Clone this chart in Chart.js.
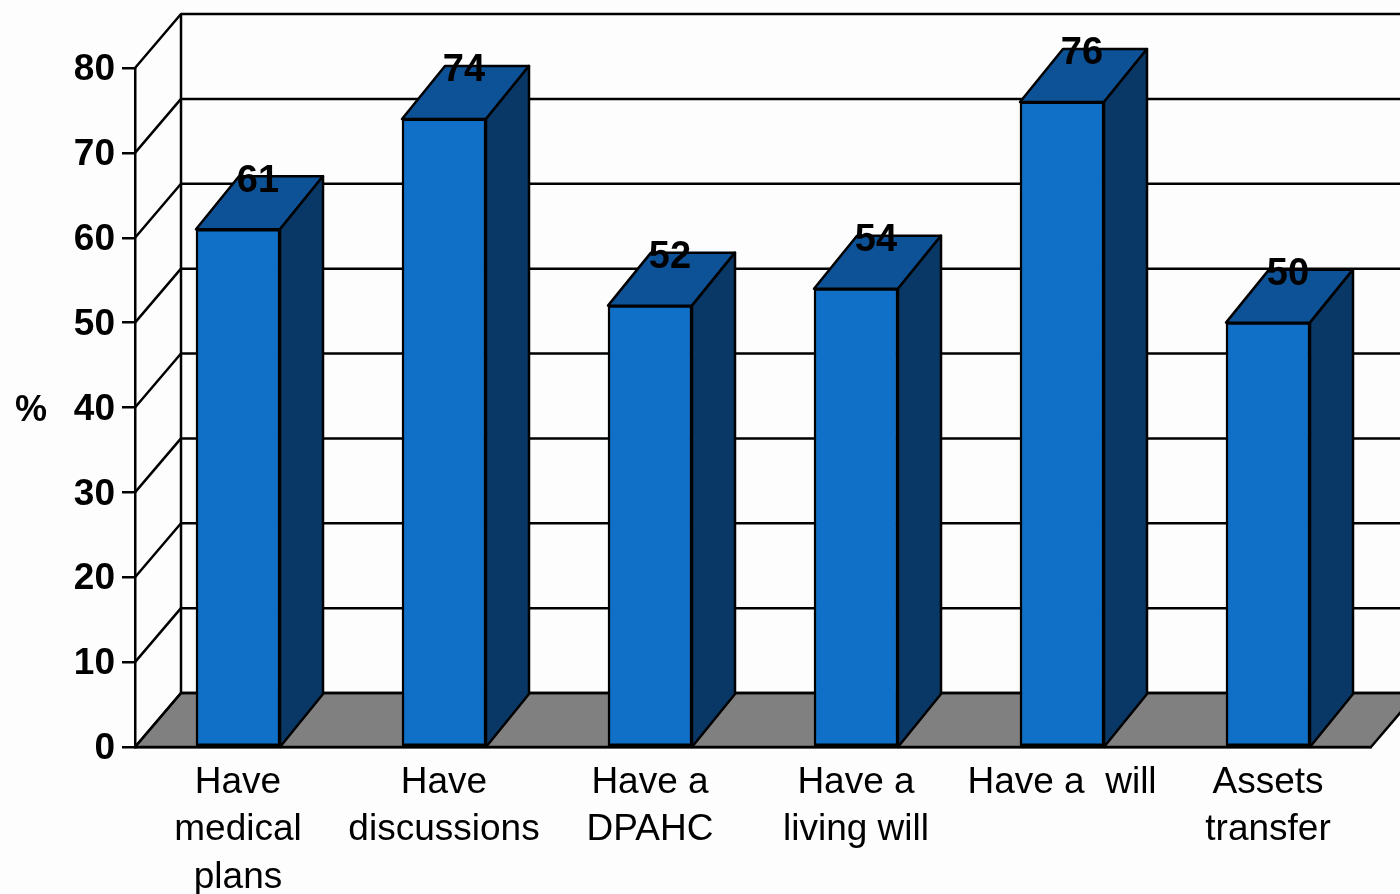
<!DOCTYPE html>
<html>
<head>
<meta charset="utf-8">
<title>Advance care planning</title>
<script src="https://cdn.jsdelivr.net/npm/chart.js"></script>
<style>
    html, body { margin: 0; padding: 0; background: #fdfdfd; }
    canvas { display: block; }
</style>
</head>
<body>
<canvas id="planChart" width="1400" height="894"></canvas>
<script>
const categories = [
    ['Have', 'medical', 'plans'],
    ['Have', 'discussions'],
    ['Have a', 'DPAHC'],
    ['Have a', 'living will'],
    ['Have a  will'],
    ['Assets', 'transfer']
];
const percents = [61, 74, 52, 54, 76, 50];
const yTicks = [0, 10, 20, 30, 40, 50, 60, 70, 80];

// 3D look: offset of the back wall and of each bar's back edge
const WALL_DX = 46, WALL_DY = -54;
const BAR_DX = 43, BAR_DY = -53;

const FONT = '"Liberation Sans", Arial, sans-serif';

function poly(ctx, pts, fill) {
    ctx.beginPath();
    pts.forEach((p, i) => i ? ctx.lineTo(p[0], p[1]) : ctx.moveTo(p[0], p[1]));
    ctx.closePath();
    ctx.fillStyle = fill;
    ctx.fill();
    ctx.stroke();
}

const depthPlugin = {
    id: 'depth',
    beforeDatasetsDraw(chart) {
        const ctx = chart.ctx;
        const { left, right } = chart.chartArea;
        const y = chart.scales.y;
        const y0 = y.getPixelForValue(0);

        ctx.save();
        ctx.strokeStyle = '#000';
        ctx.lineWidth = 2.5;
        ctx.lineJoin = 'round';

        // floor
        poly(ctx, [
            [left, y0],
            [right, y0],
            [right + WALL_DX, y0 + WALL_DY],
            [left + WALL_DX, y0 + WALL_DY]
        ], '#808080');

        // back wall and side wall lines
        yTicks.forEach(t => {
            const py = y.getPixelForValue(t);
            ctx.beginPath();
            ctx.moveTo(left, py);
            ctx.lineTo(left + WALL_DX, py + WALL_DY);
            ctx.lineTo(chart.width + 10, py + WALL_DY);
            ctx.stroke();
        });
        ctx.beginPath();
        ctx.moveTo(left + WALL_DX, y0 + WALL_DY);
        ctx.lineTo(left + WALL_DX, y.getPixelForValue(80) + WALL_DY);
        ctx.stroke();

        // top and side faces of the bars
        chart.getDatasetMeta(0).data.forEach(bar => {
            const l = bar.x - bar.width / 2, r = bar.x + bar.width / 2;
            poly(ctx, [
                [l, bar.y], [r, bar.y],
                [r + BAR_DX, bar.y + BAR_DY], [l + BAR_DX, bar.y + BAR_DY]
            ], '#0d5296');
            poly(ctx, [
                [r, bar.y], [r + BAR_DX, bar.y + BAR_DY],
                [r + BAR_DX, y0 + BAR_DY], [r, y0]
            ], '#0a3866');
        });
        ctx.restore();
    },
    afterDatasetsDraw(chart) {
        const ctx = chart.ctx;
        ctx.save();
        ctx.fillStyle = '#000';
        ctx.textAlign = 'center';
        ctx.textBaseline = 'middle';
        ctx.font = 'bold 38px ' + FONT;
        chart.getDatasetMeta(0).data.forEach((bar, i) => {
            ctx.fillText(percents[i], bar.x + 20, bar.y - 48);
        });
        // axis unit, set horizontally
        ctx.font = 'bold 36px ' + FONT;
        ctx.fillText('%', 31, 411);
        ctx.restore();
    }
};

new Chart(document.getElementById('planChart'), {
    type: 'bar',
    data: {
        labels: categories,
        datasets: [{
            data: percents,
            backgroundColor: '#1070c8',
            borderColor: '#000',
            borderWidth: 2.5,
            borderSkipped: false,
            barThickness: 84
        }]
    },
    plugins: [depthPlugin],
    options: {
        responsive: false,
        animation: false,
        layout: { padding: { top: 68, right: 29 } },
        plugins: {
            legend: { display: false },
            tooltip: { enabled: false }
        },
        scales: {
            x: {
                afterFit(scale) { scale.height = 147; },
                grid: { drawOnChartArea: false, drawTicks: false },
                border: { color: '#000', width: 2.5 },
                ticks: {
                    color: '#000',
                    padding: 12,
                    autoSkip: false,
                    maxRotation: 0,
                    font: { family: FONT, size: 37, lineHeight: 1.28 }
                }
            },
            y: {
                min: 0,
                max: 80,
                afterFit(scale) { scale.width = 135; },
                grid: { drawOnChartArea: false, color: '#000', lineWidth: 2.5, tickLength: 13 },
                border: { color: '#000', width: 2.5 },
                ticks: {
                    stepSize: 10,
                    color: '#000',
                    padding: 7,
                    labelOffset: 2,
                    font: { family: FONT, size: 37, weight: 'bold' }
                }
            }
        }
    }
});
</script>
</body>
</html>
